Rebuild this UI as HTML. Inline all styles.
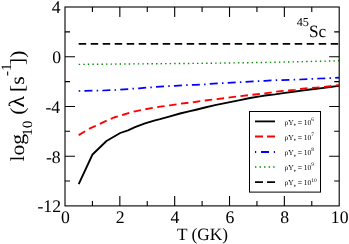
<!DOCTYPE html>
<html>
<head>
<meta charset="utf-8">
<title>45Sc</title>
<style>
html,body{margin:0;padding:0;background:#fff;}
svg{display:block;will-change:transform;}
text{text-rendering:geometricPrecision;font-family:"Liberation Serif","DejaVu Serif",serif;fill:#000;}
</style>
</head>
<body>
<svg width="349" height="244" viewBox="0 0 349 244">
<rect x="0" y="0" width="349" height="244" fill="#fff"/>
<!-- curves -->
<g fill="none" stroke-width="1.85" stroke-linejoin="round">
<polyline stroke="#000" points="78.7,184.2 92.5,154.5 106.5,141.0 120.2,133.0 128.0,130.3 135.0,127.2 145.0,123.3 155.0,120.3 160.0,119.1 170.0,116.3 180.0,113.5 190.0,111.2 195.0,110.0 205.0,107.5 215.0,105.2 225.0,103.2 230.0,102.2 240.0,100.2 250.0,98.0 260.0,96.3 265.0,95.5 275.0,94.3 285.0,92.8 295.0,91.5 300.0,90.8 310.0,89.5 320.0,88.3 330.0,87.0 335.0,86.3 339.0,85.9"/>
<polyline stroke="#f00" stroke-dasharray="7.5 4.5" points="78.7,135.1 90.0,128.3 95.0,126.2 103.0,122.3 114.0,117.5 124.0,114.5 135.0,111.3 145.0,109.3 155.0,107.5 160.0,106.7 170.0,105.3 180.0,103.8 190.0,102.6 195.0,102.0 205.0,100.5 215.0,99.3 225.0,98.1 230.0,97.4 240.0,96.2 250.0,95.0 260.0,94.0 265.0,93.3 275.0,91.8 285.0,90.8 295.0,89.8 300.0,89.0 310.0,88.0 320.0,87.3 330.0,86.2 335.0,85.6 339.0,85.2"/>
<polyline stroke="#00f" stroke-width="1.75" stroke-dasharray="1.5 4.22 8 4.22" points="78.7,91.0 103.0,90.5 110.0,90.2 115.0,90.0 124.0,89.3 133.0,88.7 139.0,88.3 155.0,87.0 175.0,85.8 195.0,84.8 205.0,84.3 225.0,83.0 245.0,81.8 265.0,80.8 271.0,80.3 300.0,79.5 310.0,79.0 320.0,78.5 330.0,78.1 339.0,77.7"/>
<polyline stroke="#008b00" stroke-width="1.4" stroke-dasharray="1.4 3.15" points="78.7,64.4 205.0,63.3 275.0,62.3 300.0,61.7 339.0,60.8"/>
<polyline stroke="#000" stroke-dasharray="7.5 4.5" points="78.7,43.9 339.0,43.9"/>
</g>
<!-- frame -->
<g stroke="#000" stroke-width="1.1" fill="none">
<rect x="65.0" y="7.0" width="274.20" height="198.90"/>
<path d="M92.42,205.9v-5M92.42,7.0v5M119.84,205.9v-10M119.84,7.0v10M147.26,205.9v-5M147.26,7.0v5M174.68,205.9v-10M174.68,7.0v10M202.10,205.9v-5M202.10,7.0v5M229.52,205.9v-10M229.52,7.0v10M256.94,205.9v-5M256.94,7.0v5M284.36,205.9v-10M284.36,7.0v10M311.78,205.9v-5M311.78,7.0v5M65.0,31.86h5M339.2,31.86h-5M65.0,56.73h10M339.2,56.73h-10M65.0,81.59h5M339.2,81.59h-5M65.0,106.45h10M339.2,106.45h-10M65.0,131.31h5M339.2,131.31h-5M65.0,156.18h10M339.2,156.18h-10M65.0,181.04h5M339.2,181.04h-5"/>
</g>
<!-- legend -->
<rect x="249.5" y="111.5" width="71" height="80.6" fill="#fff" stroke="#000" stroke-width="1"/>
<g fill="none" stroke-width="1.8">
<path stroke="#000" d="M255,121.4h20"/>
<path stroke="#f00" stroke-dasharray="8 4" d="M255,136.5h20"/>
<path stroke="#00f" stroke-dasharray="1.2 4.8 8 4.8" d="M255,152.0h20"/>
<path stroke="#008b00" stroke-width="1.4" stroke-dasharray="1.4 3.15" d="M255,167.0h20"/>
<path stroke="#000" stroke-dasharray="8 4" d="M255,182.1h20"/>
</g>
<g font-size="7.5" fill="#333">
<text x="284.6" y="124.6">ρY<tspan font-size="4.6" dy="1.7">e</tspan><tspan dy="-1.7"> = 10</tspan><tspan font-size="5.4" dy="-3.8">6</tspan></text>
<text x="284.6" y="139.7">ρY<tspan font-size="4.6" dy="1.7">e</tspan><tspan dy="-1.7"> = 10</tspan><tspan font-size="5.4" dy="-3.8">7</tspan></text>
<text x="284.6" y="155.2">ρY<tspan font-size="4.6" dy="1.7">e</tspan><tspan dy="-1.7"> = 10</tspan><tspan font-size="5.4" dy="-3.8">8</tspan></text>
<text x="284.6" y="170.2">ρY<tspan font-size="4.6" dy="1.7">e</tspan><tspan dy="-1.7"> = 10</tspan><tspan font-size="5.4" dy="-3.8">9</tspan></text>
<text x="284.6" y="185.3">ρY<tspan font-size="4.6" dy="1.7">e</tspan><tspan dy="-1.7"> = 10</tspan><tspan font-size="5.4" dy="-3.8">10</tspan></text>
</g>
<!-- tick labels -->
<g font-size="17.7" text-anchor="end">
<text x="60.5" y="12.9">4</text>
<text x="61" y="62.7">0</text>
<text x="60.2" y="112.5">-4</text>
<text x="60.7" y="162.5">-8</text>
<text x="61" y="212.35">-12</text>
</g>
<g font-size="17.7" text-anchor="middle">
<text x="65.3" y="223.3">0</text>
<text x="120.1" y="223.3">2</text>
<text x="175.0" y="223.3">4</text>
<text x="229.8" y="223.3">6</text>
<text x="284.7" y="223.3">8</text>
<text x="339.7" y="223.3">10</text>
</g>
<text x="177" y="239.8" font-size="17.3">T (GK)</text>
<text x="296.7" y="36.5" font-size="17.3"><tspan font-size="12.2" dy="-10.3">45</tspan><tspan dy="10.3">Sc</tspan></text>
<text transform="translate(23.8,161.5) rotate(-90) scale(1.08,1)" font-size="20">log<tspan font-size="14.2" dy="8.2" dx="-1.9">10</tspan><tspan dy="-8.2" dx="0.5"> (</tspan><tspan font-size="22">λ</tspan><tspan dx="-1.3"> [s</tspan><tspan font-size="14.2" dy="-12.4" dx="0.3">-1</tspan><tspan dy="12.4" dx="-1.6">])</tspan></text>
</svg>
</body>
</html>
